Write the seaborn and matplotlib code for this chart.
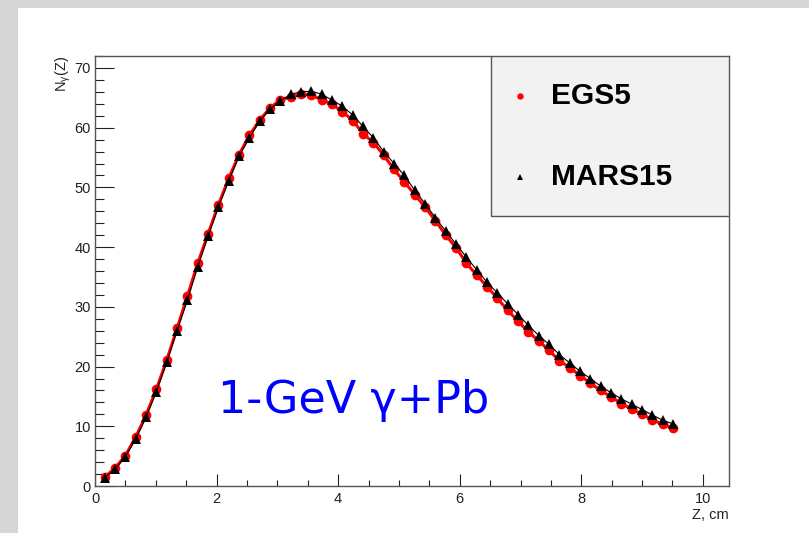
import numpy as np
import pandas as pd
import matplotlib
matplotlib.use("Agg")
import matplotlib.pyplot as plt
from matplotlib.patches import Rectangle
from matplotlib.ticker import MultipleLocator
import seaborn as sns

# Depth along the lead target (cm)
z_cm = [0.16, 0.33, 0.50, 0.67, 0.84, 1.01, 1.18, 1.35, 1.52, 1.69,
        1.86, 2.03, 2.20, 2.37, 2.54, 2.71, 2.88, 3.05, 3.22, 3.39,
        3.56, 3.73, 3.90, 4.07, 4.24, 4.41, 4.58, 4.75, 4.92, 5.09,
        5.26, 5.43, 5.60, 5.77, 5.94, 6.11, 6.28, 6.45, 6.62, 6.79,
        6.96, 7.13, 7.30, 7.47, 7.64, 7.81, 7.98, 8.15, 8.32, 8.49,
        8.66, 8.83, 9.00, 9.17, 9.34, 9.51]

# Photon multiplicity N_gamma(Z), EGS5
egs5 = [1.5, 3.0, 5.1, 8.2, 11.9, 16.2, 21.1, 26.4, 31.8, 37.3,
        42.2, 47.1, 51.5, 55.5, 58.7, 61.3, 63.3, 64.7, 65.1, 65.7,
        65.4, 64.7, 63.9, 62.7, 61.2, 59.0, 57.5, 55.4, 53.0, 50.9,
        48.8, 46.7, 44.4, 42.0, 39.9, 37.3, 35.3, 33.4, 31.4, 29.4,
        27.6, 25.8, 24.3, 22.7, 21.0, 19.8, 18.5, 17.2, 16.0, 14.9,
        13.8, 12.9, 12.0, 11.1, 10.3, 9.7]

# Photon multiplicity N_gamma(Z), MARS15
mars15 = [1.4, 2.8, 4.9, 7.9, 11.5, 15.8, 20.7, 26.0, 31.1, 36.7,
          41.8, 46.7, 51.1, 55.2, 58.3, 61.1, 63.1, 64.5, 65.6, 66.0,
          66.1, 65.6, 64.6, 63.6, 62.1, 60.2, 58.3, 56.0, 54.0, 52.0,
          49.5, 47.3, 44.9, 42.7, 40.5, 38.3, 36.2, 34.1, 32.3, 30.5,
          28.7, 26.9, 25.2, 23.7, 22.0, 20.6, 19.2, 18.0, 16.7, 15.6,
          14.6, 13.7, 12.8, 11.9, 11.0, 10.4]

series_names = ["EGS5", "MARS15"]
x_ticks = [0, 2, 4, 6, 8, 10]
y_ticks = [0, 10, 20, 30, 40, 50, 60, 70]

sns.set_theme(style="white")
plt.rcParams["font.family"] = ["Liberation Sans", "DejaVu Sans"]
plt.rcParams["mathtext.fontset"] = "custom"
plt.rcParams["mathtext.rm"] = "Liberation Sans"
plt.rcParams["mathtext.it"] = "Liberation Sans"

W, H = 809, 533
fig = plt.figure(figsize=(W / 100, H / 100), dpi=100)
fig.patch.set_facecolor("white")

# Grey marble strips along the left and top edges of the page
fig.patches.append(Rectangle((0, 0), 18 / W, 1, transform=fig.transFigure,
                             facecolor="#d6d6d6", edgecolor="none", zorder=0))
fig.patches.append(Rectangle((0, 1 - 8 / H), 1, 8 / H, transform=fig.transFigure,
                             facecolor="#d6d6d6", edgecolor="none", zorder=0))

ax = fig.add_axes([95 / W, 47 / H, 634 / W, 430 / H])
ax.set_facecolor("white")

df = pd.DataFrame({"z": z_cm, "EGS5": egs5, "MARS15": mars15})

sns.lineplot(data=df, x="z", y="EGS5", ax=ax, color="#ff0000", linewidth=2.2,
             marker="o", markersize=7.0, markeredgewidth=0,
             markerfacecolor="#ff0000", zorder=3)
sns.lineplot(data=df, x="z", y="MARS15", ax=ax, color="black", linewidth=0.8,
             marker="^", markersize=7.0, markeredgewidth=0,
             markerfacecolor="black", zorder=4)

ax.set_xlim(0, 10.43)
ax.set_ylim(0, 72)
ax.set_xticks(x_ticks)
ax.set_yticks(y_ticks)
ax.xaxis.set_minor_locator(MultipleLocator(0.5))
ax.yaxis.set_minor_locator(MultipleLocator(2))

for s in ax.spines.values():
    s.set_color("#555555")
    s.set_linewidth(1.0)

ax.tick_params(axis="y", which="major", direction="in", length=13.7, width=0.8,
               color="#222222", labelsize=10.5, labelcolor="#222222", pad=3,
               left=True)
ax.tick_params(axis="y", which="minor", direction="in", length=6.8, width=0.8,
               color="#222222", left=True)
ax.tick_params(axis="x", which="major", direction="in", length=8.6, width=0.8,
               color="#222222", labelsize=10.5, labelcolor="#222222", pad=4,
               bottom=True)
ax.tick_params(axis="x", which="minor", direction="in", length=4.3, width=0.8,
               color="#222222", bottom=True)

ax.set_xlabel("Z, cm", fontsize=10.5, color="#222222", loc="right", labelpad=2)
ax.set_ylabel(r"N$_{\gamma}$(Z)", fontsize=10.5, color="#222222", loc="top",
              labelpad=1)

# Legend box drawn in axes coordinates
ax.add_patch(Rectangle((0.6246, 0.628), 0.3754, 0.372, transform=ax.transAxes,
                       facecolor="#f2f2f2", edgecolor="#555555", linewidth=1.0,
                       zorder=5))
ax.plot([0.671], [0.907], marker="o", color="#ff0000", markersize=4.6,
        markeredgewidth=0, transform=ax.transAxes, zorder=6, clip_on=False)
ax.plot([0.671], [0.719], marker="^", color="black", markersize=4.4,
        markeredgewidth=0, transform=ax.transAxes, zorder=6, clip_on=False)
ax.text(0.719, 0.907, series_names[0], transform=ax.transAxes, fontsize=21.5,
        fontweight="bold", color="black", va="center", ha="left", zorder=6)
ax.text(0.719, 0.719, series_names[1], transform=ax.transAxes, fontsize=21.5,
        fontweight="bold", color="black", va="center", ha="left", zorder=6)

ax.text(0.194, 0.1705, "1-GeV γ+Pb", transform=ax.transAxes, fontsize=32,
        color="#0000ff", ha="left", va="baseline",
        family=["DejaVu Sans"], zorder=6)

fig.savefig("out.png", dpi=100)
